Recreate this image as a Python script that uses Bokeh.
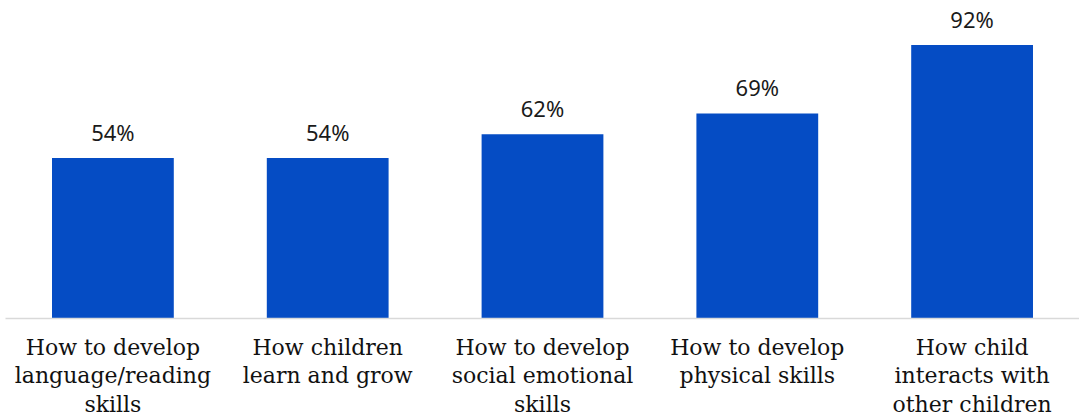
from bokeh.plotting import figure
from bokeh.models import ColumnDataSource, Range1d, FactorRange
from bokeh.core.properties import value
from bokeh.embed import file_html
from bokeh.resources import INLINE

categories = [
    "How to develop\nlanguage/reading\nskills",
    "How children\nlearn and grow",
    "How to develop\nsocial emotional\nskills",
    "How to develop\nphysical skills",
    "How child\ninteracts with\nother children",
]
values = [54, 54, 62, 69, 92]
labels = [f"{v}%" for v in values]

src = ColumnDataSource(dict(cat=categories, val=values, lab=labels))

p = figure(
    x_range=FactorRange(*categories, range_padding=0),
    y_range=Range1d(0, 107),
    width=1079, height=420,
    output_backend="svg", toolbar_location=None,
    min_border_left=5, min_border_right=0, min_border_top=0, min_border_bottom=0,
)
p.vbar(x="cat", top="val", width=0.567, source=src, color="#054CC4", line_color=None)
p.text(x="cat", y="val", text="lab", source=src, text_align="center",
       text_baseline="middle", y_offset=-26, text_font=value("Noto Sans"),
       text_font_size="22px", text_color="#1a1a1a")

p.yaxis.visible = False
p.grid.visible = False
p.outline_line_color = None
p.xaxis.axis_line_color = "#d9d9d9"
p.xaxis.axis_line_width = 1.5
p.xaxis.major_tick_line_color = None
p.xaxis.minor_tick_line_color = None
p.xaxis.major_tick_out = 0
p.xaxis.major_tick_in = 0
p.xaxis.major_label_standoff = 16
p.xaxis.major_label_text_font = "DejaVu Serif"
p.xaxis.major_label_text_font_size = "22px"
p.xaxis.major_label_text_color = "#111111"
p.xaxis.major_label_text_line_height = 1.15

open("out.html", "w").write(file_html(p, INLINE))
